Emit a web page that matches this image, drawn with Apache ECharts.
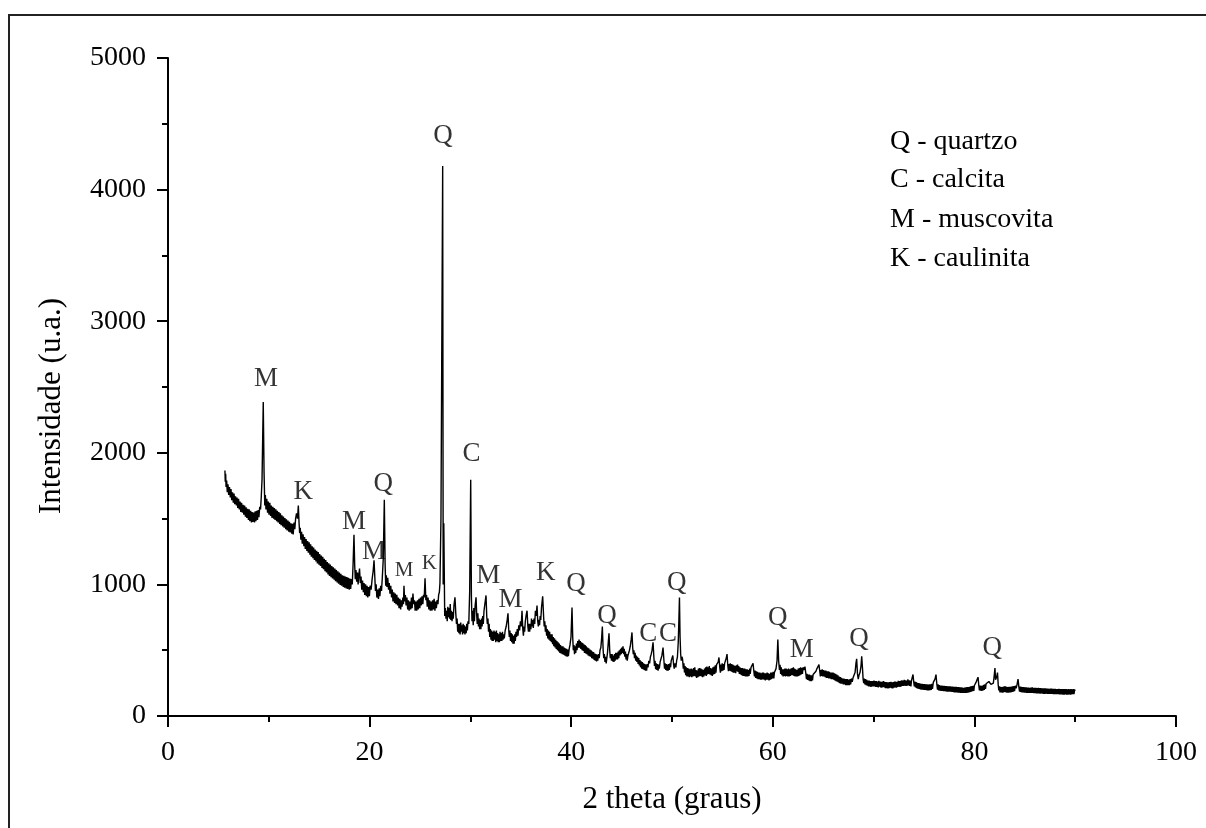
<!DOCTYPE html>
<html>
<head>
<meta charset="utf-8">
<script src="https://cdn.jsdelivr.net/npm/echarts@6/dist/echarts.min.js"></script>
<style>
html,body{margin:0;padding:0;background:#fff;}
#chart{width:1206px;height:828px;}
</style>
</head>
<body>
<div id="chart"></div>
<script>
// ---- Data: XRD scan (2 theta in degrees, intensity in a.u.) ----
const scanA = [
[5.65,1865],[5.68,1780],[5.72,1840],[5.76,1740],[5.82,1790],[5.88,1700],[5.95,1760],[6.02,1680],[6.10,1740],[6.18,1660],
[6.25,1725],[6.32,1640],[6.40,1700],[6.48,1620],[6.55,1690],[6.62,1610],[6.70,1670],[6.78,1600],[6.85,1660],[6.92,1580],
[7.00,1650],[7.08,1570],[7.15,1630],[7.22,1550],[7.30,1620],[7.38,1545],[7.45,1605],[7.52,1530],[7.60,1600],[7.68,1515],
[7.75,1585],[7.82,1505],[7.90,1575],[7.98,1490],[8.05,1570],[8.12,1480],[8.20,1560],[8.28,1470],[8.35,1550],[8.42,1475],
[8.50,1545],[8.58,1470],[8.65,1555],[8.72,1480],[8.80,1560],[8.88,1490],[8.95,1565],[9.02,1510],[9.10,1590],[9.18,1570],
[9.25,1660],[9.33,1800],[9.45,2386],[9.53,1850],[9.60,1600],[9.66,1680],[9.72,1570],[9.80,1650],[9.88,1545],[9.95,1630],
[10.02,1530],[10.10,1620],[10.18,1520],[10.25,1600],[10.32,1505],[10.40,1590],[10.48,1500],[10.55,1580],[10.62,1490],[10.70,1570],
[10.78,1480],[10.85,1560],[10.92,1470],[11.00,1550],[11.08,1460],[11.15,1540],[11.22,1450],[11.30,1525],[11.38,1440],[11.45,1515],
[11.52,1430],[11.60,1505],[11.68,1420],[11.75,1495],[11.82,1410],[11.90,1485],[11.98,1400],[12.05,1475],[12.12,1395],[12.20,1465],
[12.28,1385],[12.35,1460],[12.42,1380],[12.50,1470],[12.58,1420],[12.66,1500],[12.75,1540],[12.85,1500],[12.93,1600],[13.00,1470],
[13.06,1390],[13.12,1430],[13.18,1340],[13.25,1400],[13.32,1310],[13.40,1380],[13.48,1290],[13.55,1360],[13.62,1270],[13.70,1345],
[13.78,1255],[13.85,1330],[13.92,1240],[14.00,1320],[14.08,1225],[14.15,1305],[14.22,1210],[14.30,1290],[14.38,1200],[14.45,1280],
[14.52,1185],[14.60,1265],[14.68,1175],[14.75,1255],[14.82,1160],[14.90,1245],[14.98,1150],[15.05,1230],[15.12,1140],[15.20,1220],
[15.28,1125],[15.35,1210],[15.42,1115],[15.50,1195],[15.58,1100],[15.65,1185],[15.72,1090],[15.80,1170],[15.88,1075],[15.95,1160],
[16.02,1065],[16.10,1150],[16.18,1055],[16.25,1140],[16.32,1045],[16.40,1130],[16.48,1035],[16.55,1120],[16.62,1025],[16.70,1110],
[16.78,1015],[16.85,1100],[16.92,1005],[17.00,1090],[17.08,995],[17.15,1080],[17.22,990],[17.30,1070],[17.38,980],[17.45,1065],
[17.52,975],[17.60,1060],[17.68,970],[17.75,1055],[17.82,965],[17.90,1050],[17.98,960],[18.05,1045],[18.12,965],[18.20,1040],
[18.28,1000],[18.36,1150],[18.45,1378],[18.52,1150],[18.58,1040],[18.65,1110],[18.72,1020],[18.80,1090],[18.86,1000],[18.92,1060],
[19.00,1120],[19.08,1010],[19.15,1060],[19.22,960],[19.30,1030],[19.38,940],[19.45,1010],[19.52,920],[19.60,1000],[19.68,910],
[19.75,990],[19.82,900],[19.90,980],[19.98,910],[20.05,990],[20.15,960],[20.25,1040],[20.35,1100],[20.44,1183],[20.52,1050],
[20.58,950],[20.65,1000],[20.72,900],[20.80,960],[20.88,890],[20.95,970],[21.02,910],[21.10,990],[21.18,950],[21.26,1050],
[21.36,1200],[21.46,1644],[21.54,1150],[21.60,990],[21.66,1070],[21.72,980],[21.80,1050],[21.88,960],[21.95,1010],[22.02,930],
[22.10,990],[22.18,900],[22.25,960],[22.32,870],[22.40,940],[22.48,860],[22.55,930],[22.62,850],[22.70,920],[22.78,840],
[22.85,900],[22.92,820],[23.00,890],[23.08,810],[23.15,880],[23.22,830],[23.30,900],[23.36,850],[23.41,990],[23.48,870],
[23.55,920],[23.62,840],[23.70,900],[23.78,810],[23.85,880],[23.92,800],[24.00,870],[24.08,810],[24.15,900],[24.22,820],
[24.30,930],[24.38,850],[24.45,880],[24.52,800],[24.60,870],[24.68,800],[24.75,880],[24.82,810],[24.90,890],[24.98,820],
[25.05,900],[25.12,840],[25.20,910],[25.28,850],[25.35,920],[25.42,900],[25.50,1046],[25.58,880],[25.65,920],[25.72,830],
[25.80,900],[25.88,810],[25.95,880],[26.02,800],[26.10,870],[26.18,800],[26.25,880],[26.32,810],[26.40,890],[26.48,800],
[26.55,870],[26.62,820],[26.70,880],[26.78,850],[26.85,920],[26.92,940],[26.98,1010],[27.08,1500],[27.15,2600],[27.25,4180],
[27.30,1000],[27.36,1464],[27.45,760]
];
const scanB = [
[27.52,820],[27.58,740],[27.64,800],[27.70,720],[27.76,830],[27.82,750],[27.88,820],[27.94,740],[28.00,850],[28.06,730],
[28.12,800],[28.18,720],[28.24,790],[28.30,740],[28.37,840],[28.47,902],[28.55,780],[28.62,700],[28.68,740],[28.74,640],
[28.80,700],[28.86,630],[28.92,700],[28.98,620],[29.04,710],[29.10,640],[29.16,690],[29.22,620],[29.28,700],[29.34,630],
[29.40,690],[29.46,620],[29.52,680],[29.58,630],[29.64,700],[29.70,650],[29.76,720],[29.84,700],[29.93,950],[30.03,1796],
[30.10,900],[30.16,720],[30.22,800],[30.28,690],[30.34,820],[30.40,720],[30.47,840],[30.56,902],[30.63,760],[30.68,700],
[30.74,780],[30.80,680],[30.86,740],[30.92,660],[30.98,730],[31.04,660],[31.10,740],[31.16,680],[31.22,760],[31.28,700],
[31.35,800],[31.45,860],[31.55,916],[31.62,760],[31.68,700],[31.74,740],[31.80,640],[31.86,700],[31.92,600],[31.98,660],
[32.04,580],[32.10,650],[32.16,570],[32.22,640],[32.28,570],[32.34,650],[32.40,580],[32.46,640],[32.52,560],[32.58,650],
[32.64,570],[32.70,630],[32.76,560],[32.82,620],[32.88,560],[32.94,640],[33.00,570],[33.06,630],[33.12,570],[33.18,640],
[33.24,580],[33.30,620],[33.36,590],[33.45,650],[33.55,680],[33.65,730],[33.73,780],[33.80,660],[33.86,600],[33.92,650],
[33.98,570],[34.04,630],[34.10,560],[34.16,620],[34.22,550],[34.28,610],[34.34,550],[34.40,620],[34.46,570],[34.52,640],
[34.58,600],[34.65,660],[34.72,610],[34.80,690],[34.88,650],[34.96,720],[35.04,680],[35.12,800],[35.20,660],[35.26,610],
[35.32,680],[35.38,640],[35.45,720],[35.52,760],[35.62,800],[35.70,680],[35.76,640],[35.82,700],[35.88,640],[35.94,700],
[36.00,660],[36.06,740],[36.12,680],[36.18,730],[36.24,670],[36.31,740],[36.38,700],[36.45,800],[36.52,760],[36.61,840],
[36.68,720],[36.74,680],[36.80,730],[36.86,690],[36.92,760],[36.98,730],[37.06,830],[37.17,910],[37.26,760],[37.32,680],
[37.38,720],[37.44,640],[37.50,690],[37.56,610],[37.62,660],[37.68,590],[37.74,650],[37.80,580],[37.86,640],[37.92,570],
[37.98,620],[38.04,560],[38.10,620],[38.16,545],[38.22,600],[38.28,530],[38.34,590],[38.40,520],[38.46,580],[38.52,510],
[38.58,570],[38.64,500],[38.70,560],[38.76,490],[38.82,550],[38.88,480],[38.94,540],[39.00,475],[39.06,530],[39.12,470],
[39.18,530],[39.24,465],[39.30,520],[39.36,460],[39.42,515],[39.48,455],[39.54,510],[39.60,450],[39.66,505],[39.72,455],
[39.80,510],[39.88,540],[39.98,600],[40.08,825],[40.15,600],[40.21,500],[40.27,540],[40.33,470],[40.39,530],[40.45,480],
[40.52,550],[40.58,500],[40.65,570],[40.72,520],[40.78,580],[40.84,520],[40.90,570],[40.96,510],[41.02,560],[41.08,500],
[41.14,555],[41.20,495],[41.26,545],[41.32,480],[41.38,540],[41.44,475],[41.50,530],[41.56,470],[41.62,520],[41.68,460],
[41.74,515],[41.80,455],[41.86,505],[41.92,450],[41.98,500],[42.04,440],[42.10,490],[42.16,435],[42.22,485],[42.28,425],
[42.34,475],[42.40,420],[42.46,470],[42.52,415],[42.58,465],[42.64,420],[42.70,470],[42.78,440],[42.86,500],[42.94,520],
[43.01,580],[43.09,680],[43.17,500],[43.23,440],[43.29,470],[43.35,410],[43.41,450],[43.47,400],[43.52,430],[43.60,480],
[43.68,560],[43.75,628],[43.82,500],[43.88,440],[43.94,470],[44.00,420],[44.06,470],[44.12,415],[44.18,460],[44.24,410],
[44.30,470],[44.36,420],[44.42,480],[44.48,430],[44.54,480],[44.60,430],[44.66,490],[44.72,440],[44.78,500],[44.84,460],
[44.90,510],[44.96,470],[45.02,520],[45.08,480],[45.14,530],[45.20,470],[45.26,510],[45.32,450],[45.38,490],[45.44,430],
[45.50,470],[45.56,420],[45.63,460],[45.70,450],[45.78,500],[45.86,530],[45.95,580],[46.03,635],[46.10,520],[46.16,470],
[46.22,500],[46.28,440],[46.34,480],[46.40,420],[46.46,460],[46.52,410],[46.58,450],[46.64,395],[46.70,440],[46.76,385],
[46.82,425],[46.88,370],[46.94,415],[47.00,360],[47.06,410],[47.12,355],[47.18,400],[47.24,350],[47.30,395],[47.36,345],
[47.42,390],[47.48,345],[47.55,395],[47.62,370],[47.70,420],[47.78,400],[47.86,450],[47.94,470],[48.02,500],[48.12,560],
[48.20,450],[48.26,380],[48.32,420],[48.38,355],[48.44,400],[48.50,350],[48.56,395],[48.62,345],[48.68,390],[48.74,360],
[48.82,410],[48.90,420],[49.00,460],[49.11,520],[49.20,420],[49.26,360],[49.32,400],[49.38,350],[49.44,395],[49.50,345],
[49.56,390],[49.62,345],[49.68,395],[49.74,350],[49.80,400],[49.86,370],[49.92,420],[50.00,440],[50.08,460],[50.16,390],
[50.22,360],[50.30,400],[50.38,370],[50.46,420],[50.54,450],[50.62,560],[50.68,720],[50.74,900],[50.80,600],[50.86,470],
[50.92,420],[50.99,450]
];
const scanC = [
[51.05,430],[51.12,360],[51.18,400],[51.24,330],[51.30,380],[51.36,310],[51.42,370],[51.48,300],[51.54,365],[51.60,300],
[51.66,360],[51.72,295],[51.78,355],[51.84,300],[51.90,360],[51.96,295],[52.02,355],[52.08,300],[52.14,365],[52.20,305],
[52.26,370],[52.32,300],[52.38,350],[52.44,290],[52.50,345],[52.56,295],[52.62,360],[52.68,300],[52.74,365],[52.80,305],
[52.86,360],[52.92,300],[52.98,355],[53.04,295],[53.10,350],[53.16,300],[53.22,360],[53.28,310],[53.34,370],[53.40,305],
[53.46,375],[53.52,315],[53.58,370],[53.64,320],[53.70,380],[53.76,315],[53.82,365],[53.88,310],[53.94,360],[54.00,305],
[54.06,370],[54.12,315],[54.18,375],[54.24,320],[54.30,385],[54.36,330],[54.42,390],[54.50,380],[54.58,410],[54.66,445],
[54.74,370],[54.80,330],[54.86,390],[54.92,340],[54.98,400],[55.04,345],[55.10,395],[55.16,350],[55.22,400],[55.30,420],
[55.38,440],[55.46,470],[55.54,380],[55.60,340],[55.66,395],[55.72,345],[55.78,400],[55.84,340],[55.90,395],[55.96,335],
[56.02,390],[56.08,330],[56.14,385],[56.20,330],[56.26,380],[56.32,325],[56.38,385],[56.44,340],[56.50,390],[56.56,335],
[56.62,380],[56.68,320],[56.74,370],[56.80,315],[56.86,365],[56.92,310],[56.98,365],[57.04,305],[57.10,360],[57.16,305],
[57.22,360],[57.28,300],[57.34,355],[57.40,300],[57.46,355],[57.52,300],[57.58,350],[57.64,305],[57.70,360],[57.76,320],
[57.84,370],[57.94,380],[58.04,400],[58.12,340],[58.18,300],[58.24,345],[58.30,290],[58.36,340],[58.42,285],[58.48,335],
[58.54,280],[58.60,330],[58.66,280],[58.72,330],[58.78,275],[58.84,325],[58.90,275],[58.96,330],[59.02,280],[59.08,330],
[59.14,275],[59.20,325],[59.26,270],[59.32,325],[59.38,275],[59.44,330],[59.50,275],[59.56,325],[59.62,270],[59.68,320],
[59.74,275],[59.80,330],[59.86,280],[59.92,330],[59.98,285],[60.04,335],[60.10,285],[60.16,330],[60.24,320],[60.32,360],
[60.42,420],[60.50,582],[60.58,420],[60.66,350],[60.72,390],[60.78,320],[60.84,370],[60.90,310],[60.96,355],[61.02,300],
[61.08,355],[61.14,305],[61.20,360],[61.26,300],[61.32,360],[61.38,305],[61.44,355],[61.50,300],[61.56,360],[61.62,300],
[61.68,355],[61.74,305],[61.80,360],[61.86,310],[61.92,365],[61.98,310],[62.04,370],[62.10,305],[62.16,360],[62.22,300],
[62.28,355],[62.34,300],[62.40,350],[62.46,300],[62.52,360],[62.58,305],[62.64,365],[62.70,310],[62.76,370],[62.82,315],
[62.88,365],[62.94,320],[63.00,370],[63.08,350],[63.19,375],[63.28,320],[63.34,280],[63.40,320],[63.46,275],[63.52,315],
[63.58,270],[63.64,315],[63.70,265],[63.76,310],[63.82,265],[63.88,310],[63.94,270],[64.00,315],[64.08,300],[64.18,330],
[64.28,340],[64.38,360],[64.48,370],[64.58,390],[64.66,340],[64.72,300],[64.78,350],[64.84,305],[64.90,355],[64.96,300],
[65.02,350],[65.08,300],[65.14,345],[65.20,295],[65.26,345],[65.32,290],[65.38,340],[65.44,290],[65.50,340],[65.56,285],
[65.62,335],[65.68,285],[65.74,330],[65.80,280],[65.86,330],[65.92,280],[65.98,330],[66.04,275],[66.10,325],[66.16,270],
[66.22,320],[66.28,265],[66.34,315],[66.40,260],[66.46,310],[66.52,255],[66.58,300],[66.64,250],[66.70,295],[66.76,245],
[66.82,290],[66.88,245],[66.94,285],[67.00,240],[67.06,285],[67.12,240],[67.18,280],[67.24,235],[67.30,280],[67.36,235],
[67.42,280],[67.48,235],[67.54,275],[67.60,235],[67.66,280],[67.72,240],[67.80,285],[67.88,260],[67.96,290],[68.06,300],
[68.16,330],[68.25,400],[68.32,435],[68.40,320],[68.48,280],[68.55,310],[68.65,330],[68.75,380],[68.82,453],[68.90,360],
[68.96,280],[69.02,250],[69.08,285],[69.14,240],[69.20,280],[69.26,235],[69.32,275],[69.38,230],[69.44,270],[69.50,225],
[69.56,270],[69.62,225],[69.68,265],[69.74,220],[69.80,265],[69.86,225],[69.92,265]
];
const scanD = [
[69.98,225],[70.04,270],[70.10,225],[70.16,265],[70.22,220],[70.28,265],[70.34,220],[70.40,262],[70.46,218],[70.52,268],
[70.58,222],[70.64,262],[70.70,218],[70.76,260],[70.82,215],[70.88,262],[70.94,220],[71.00,265],[71.06,218],[71.12,258],
[71.18,212],[71.24,258],[71.30,212],[71.36,255],[71.42,210],[71.48,255],[71.54,212],[71.60,258],[71.66,215],[71.72,260],
[71.78,212],[71.84,255],[71.90,210],[71.96,258],[72.02,215],[72.08,262],[72.14,218],[72.20,262],[72.26,215],[72.32,258],
[72.38,220],[72.44,268],[72.50,222],[72.56,265],[72.62,220],[72.68,268],[72.74,225],[72.80,272],[72.86,228],[72.92,270],
[72.98,228],[73.04,275],[73.10,230],[73.16,272],[73.22,228],[73.28,270],[73.34,230],[73.40,278],[73.46,232],[73.52,272],
[73.58,228],[73.64,270],[73.70,225],[73.76,270],[73.84,280],[73.91,315],[73.98,260],[74.04,225],[74.10,262],[74.16,218],
[74.22,258],[74.28,212],[74.34,252],[74.40,208],[74.46,250],[74.52,205],[74.58,248],[74.64,202],[74.70,245],[74.76,200],
[74.82,245],[74.88,200],[74.94,242],[75.00,198],[75.06,242],[75.12,198],[75.18,240],[75.24,196],[75.30,240],[75.36,195],
[75.42,238],[75.48,195],[75.54,240],[75.60,196],[75.66,240],[75.72,198],[75.78,245],[75.84,205],[75.92,255],[76.00,260],
[76.09,280],[76.19,315],[76.27,245],[76.34,200],[76.40,240],[76.46,195],[76.52,235],[76.58,192],[76.64,232],[76.70,190],
[76.76,232],[76.82,190],[76.88,230],[76.94,188],[77.00,230],[77.06,188],[77.12,228],[77.18,186],[77.24,228],[77.30,185],
[77.36,226],[77.42,184],[77.48,225],[77.54,184],[77.60,226],[77.66,184],[77.72,224],[77.78,182],[77.84,224],[77.90,182],
[77.96,222],[78.02,180],[78.08,222],[78.14,180],[78.20,222],[78.26,180],[78.32,220],[78.38,178],[78.44,220],[78.50,178],
[78.56,218],[78.62,176],[78.68,218],[78.74,176],[78.80,216],[78.86,175],[78.92,215],[78.98,175],[79.04,216],[79.10,175],
[79.16,218],[79.22,176],[79.28,220],[79.34,178],[79.40,220],[79.46,180],[79.52,222],[79.58,182],[79.64,225],[79.70,185],
[79.76,228],[79.82,188],[79.88,230],[79.94,190],[80.00,232],[80.08,240],[80.16,255],[80.26,275],[80.36,295],[80.44,230],
[80.50,195],[80.56,232],[80.62,192],[80.68,230],[80.74,190],[80.80,232],[80.86,195],[80.92,236],[80.98,198],[81.04,240],
[81.10,205],[81.16,245],[81.24,240],[81.34,255],[81.44,262],[81.55,270],[81.64,240],[81.72,225],[81.80,255],[81.88,250],
[81.95,295],[82.04,365],[82.10,275],[82.16,260],[82.22,300],[82.29,330],[82.36,240],[82.42,195],[82.48,225],[82.54,180],
[82.60,222],[82.66,180],[82.72,220],[82.78,178],[82.84,222],[82.90,180],[82.96,225],[83.02,182],[83.08,225],[83.14,180],
[83.20,222],[83.26,178],[83.32,220],[83.38,178],[83.44,222],[83.50,180],[83.56,222],[83.62,180],[83.68,224],[83.74,182],
[83.80,225],[83.86,185],[83.92,228],[83.98,188],[84.06,230],[84.14,210],[84.22,235],[84.33,280],[84.42,215],[84.48,185],
[84.54,224],[84.60,182],[84.66,222],[84.72,180],[84.78,220],[84.84,180],[84.90,220],[84.96,178],[85.02,218],[85.08,178],
[85.14,218],[85.20,176],[85.26,216],[85.32,176],[85.38,216],[85.44,175],[85.50,215],[85.56,175],[85.62,216],[85.68,176],
[85.74,218],[85.80,175],[85.86,215],[85.92,174],[85.98,215],[86.04,174],[86.10,214],[86.16,172],[86.22,212],[86.28,172],
[86.34,214],[86.40,172],[86.46,212],[86.52,170],[86.58,212],[86.64,172],[86.70,211],[86.76,170],[86.82,210],[86.88,168],
[86.94,210],[87.00,168],[87.06,210],[87.12,169],[87.18,208],[87.24,167],[87.30,208],[87.36,167],[87.42,207],[87.48,167],
[87.54,208],[87.60,168],[87.66,209],[87.72,168],[87.78,207],[87.84,166],[87.90,207],[87.96,165],[88.02,206],[88.08,165],
[88.14,205],[88.20,165],[88.26,205],[88.32,165],[88.38,206],[88.44,164],[88.50,205],[88.56,164],[88.62,204],[88.68,164],
[88.74,204],[88.80,163],[88.86,204],[88.92,163],[88.98,205],[89.04,164],[89.10,204],[89.16,163],[89.22,203],[89.28,163],
[89.34,204],[89.40,164],[89.46,203],[89.52,163],[89.58,204],[89.64,164],[89.70,203],[89.76,165],[89.82,204],[89.88,166],
[89.94,202],[89.98,190]
];

// Peak annotations: phase letter, 2theta position, label height (intensity units)
const peakLetter = ['M','K','M','M','Q','M','K','Q','C','M','M','K','Q','Q','C','C','Q','Q','M','Q','Q'];
const peakTheta  = [9.72,13.42,18.45,20.44,21.36,23.41,25.92,27.28,30.12,31.77,33.99,37.47,40.48,43.55,47.64,49.60,50.46,60.48,62.87,68.55,81.77];
const peakLabelI = [2560,1700,1472,1244,1760,1107,1160,4410,1990,1064,879,1084,1000,757,626,626,1010,747,505,583,518];
const peakSmall  = [false,false,false,false,false,true,true,false,false,false,false,false,false,false,false,false,false,false,false,false,false];

// Phase key text
const legendLines = ['Q - quartzo','C - calcita','M - muscovita','K - caulinita'];

// Axis settings
const xTicks = {min:0, max:100, step:20};
const yTicks = {min:0, max:5000, step:1000};
const xTitle = '2 theta (graus)';
const yTitle = 'Intensidade (u.a.)';

const SERIF = "'Liberation Serif','Times New Roman',serif";
const chart = echarts.init(document.getElementById('chart'), null, {renderer:'canvas'});

const scan = scanA.concat(scanB, scanC, scanD);
const peakData = peakLetter.map((l,i)=>{
  const item = {value:[peakTheta[i], peakLabelI[i], l]};
  if (peakSmall[i]) item.label = {fontSize:21};
  return item;
});

const legendY = [140,178,218,257];
const graphics = [
  {type:'rect', silent:true, z:-1, shape:{x:9, y:15, width:1400, height:1000},
   style:{fill:'none', stroke:'#222', lineWidth:2}},
  {type:'text', silent:true, x:52, y:406, rotation:Math.PI/2,
   style:{text:yTitle, fill:'#000', font:"31px "+SERIF, textAlign:'center', textVerticalAlign:'middle'}}
].concat(legendLines.map((t,i)=>({
  type:'text', left:890, top:legendY[i]-12, silent:true,
  style:{text:t, fill:'#000', font:"28px "+SERIF}
})));

const axisCommon = {
  axisLine:{show:true, onZero:false, lineStyle:{color:'#000', width:2}},
  axisTick:{show:true, inside:false, length:11, lineStyle:{color:'#000', width:2}},
  minorTick:{show:true, splitNumber:2, length:6, lineStyle:{color:'#000', width:2}},
  splitLine:{show:false},
  minorSplitLine:{show:false},
  nameTextStyle:{fontFamily:SERIF, fontSize:31, color:'#000'}
};

chart.setOption({
  animation:false,
  backgroundColor:'#fff',
  grid:{left:168, right:30, top:58, bottom:112},
  xAxis:Object.assign({
    type:'value', min:xTicks.min, max:xTicks.max, interval:xTicks.step,
    name:xTitle, nameLocation:'middle', nameGap:68,
    axisLabel:{fontFamily:SERIF, fontSize:28, color:'#000', margin:23, formatter:v=>String(v)}
  }, axisCommon),
  yAxis:Object.assign({
    type:'value', min:yTicks.min, max:yTicks.max, interval:yTicks.step,
    axisLabel:{fontFamily:SERIF, fontSize:28, color:'#000', margin:22, formatter:v=>String(v)}
  }, axisCommon),
  series:[
    {type:'line', data:scan, showSymbol:false, symbol:'none', smooth:false,
     lineStyle:{color:'#000', width:1.4}, z:3},
    {type:'scatter', data:peakData, symbolSize:0, z:4,
     label:{show:true, position:'inside', formatter:p=>p.value[2],
            fontFamily:SERIF, fontSize:27, color:'#000'}}
  ],
  graphic:graphics
});
</script>
</body>
</html>
